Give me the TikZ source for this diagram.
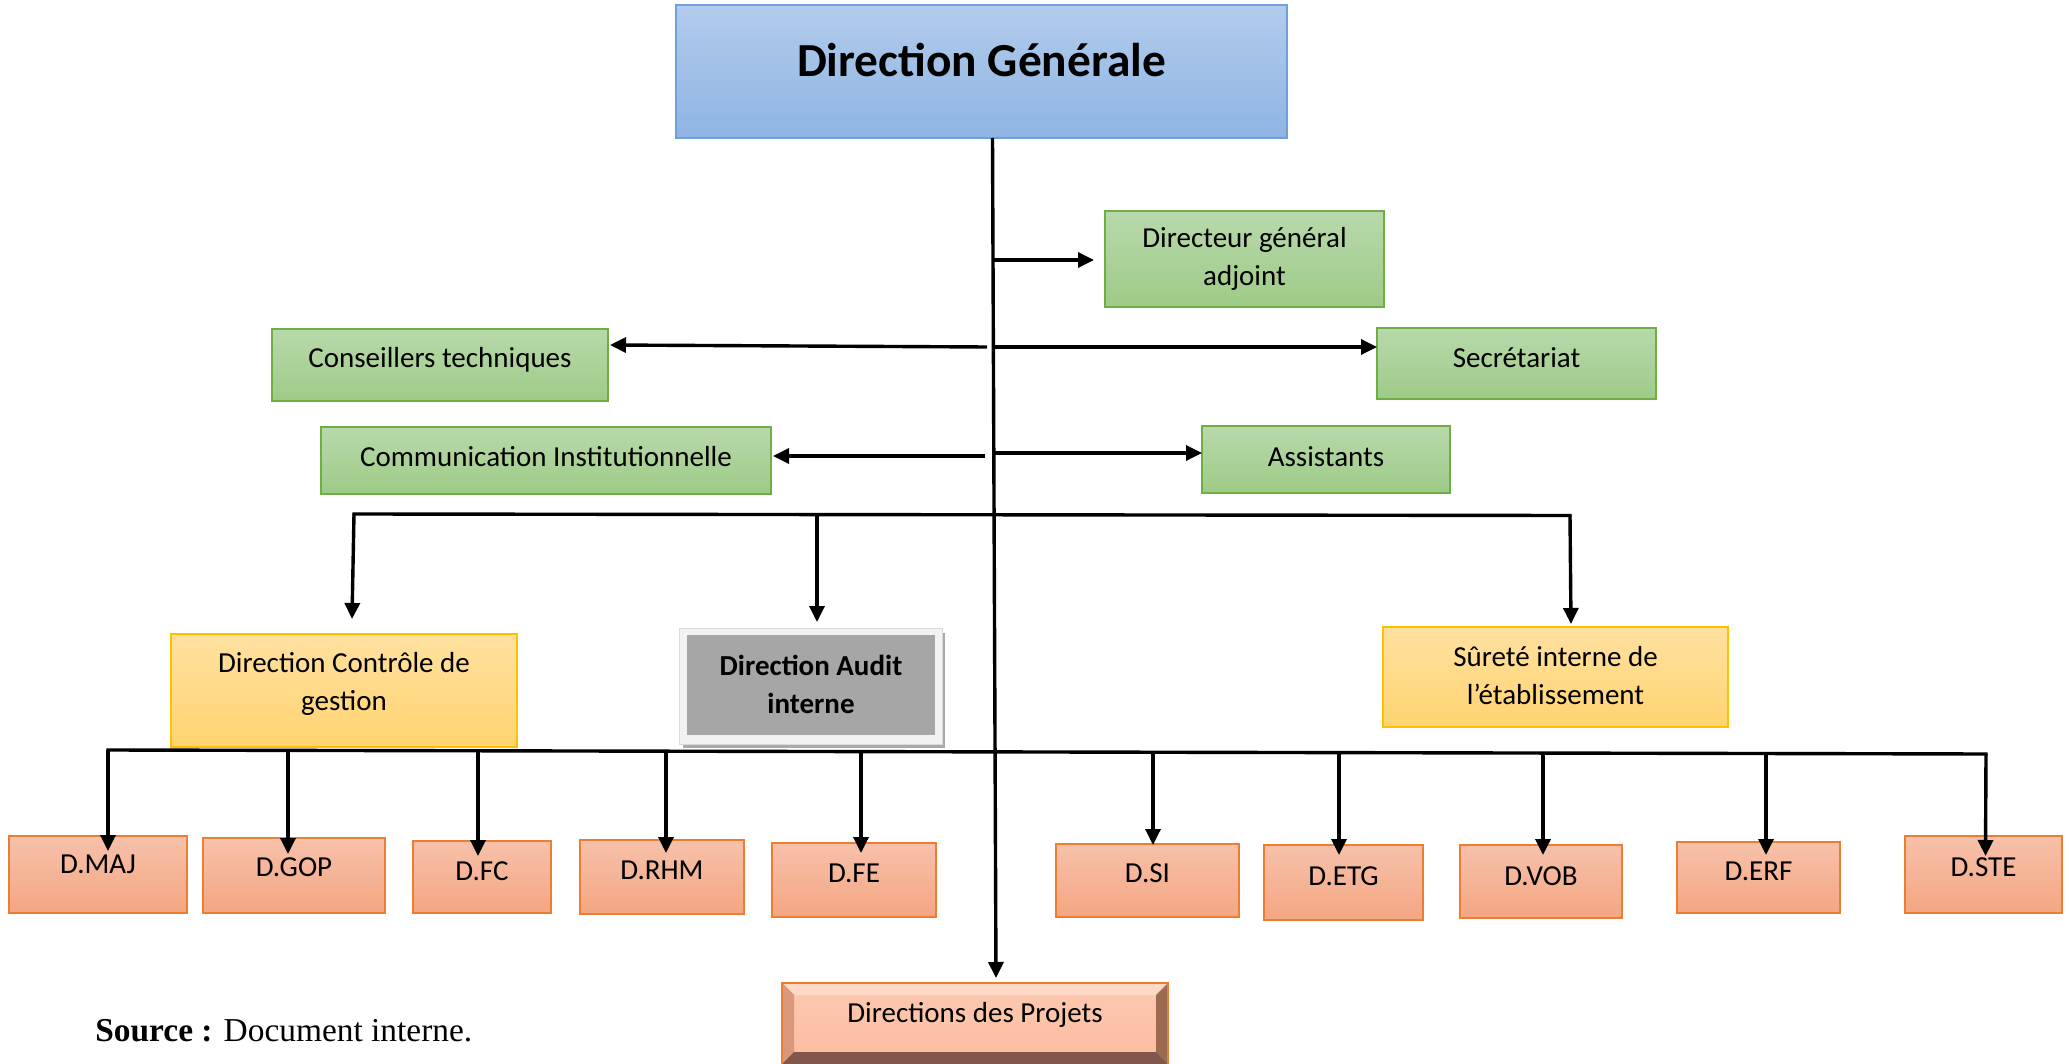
\documentclass[tikz,border=0pt]{standalone}
\usepackage{fontspec}
\setmainfont{Carlito}
\newfontfamily\timesf{Liberation Serif}
\usetikzlibrary{arrows.meta,calc}

\definecolor{dgTop}{RGB}{178,204,236}
\definecolor{dgBot}{RGB}{142,180,227}
\definecolor{dgBd}{RGB}{110,160,220}
\definecolor{grTop}{RGB}{184,217,171}
\definecolor{grBot}{RGB}{158,203,135}
\definecolor{grBd}{RGB}{112,173,71}
\definecolor{yeTop}{RGB}{255,224,160}
\definecolor{yeBot}{RGB}{255,212,112}
\definecolor{yeBd}{RGB}{255,192,0}
\definecolor{orTop}{RGB}{247,193,170}
\definecolor{orBot}{RGB}{244,166,130}
\definecolor{orBd}{RGB}{237,125,49}
\definecolor{auOut}{RGB}{242,242,242}
\definecolor{auIn}{RGB}{166,166,166}
\definecolor{auSh}{RGB}{170,170,170}
\definecolor{prFace}{RGB}{252,188,158}
\definecolor{prTopB}{RGB}{253,216,196}
\definecolor{prLeftB}{RGB}{217,152,124}
\definecolor{prRightB}{RGB}{156,106,82}
\definecolor{prBotB}{RGB}{128,87,74}

% name, box style, x1, y1, x2, y2, text y, text style, text
\newcommand\orgbox[9]{%
  \node[#2, minimum width={(#5-#3)*0.5pt}, minimum height={(#6-#4)*0.5pt}] (#1) at ({(#3+#5)/2},{(#4+#6)/2}) {};
  \node[txt,#8] (#1-t) at ({(#3+#5)/2},#7) {#9};}

\begin{document}
\begin{tikzpicture}[x=0.5pt,y=-0.5pt,
  box/.style={draw, line width=0.7pt, inner sep=0pt, outer sep=0pt, rectangle},
  dgbox/.style={box, draw=dgBd, top color=dgTop, bottom color=dgBot},
  grbox/.style={box, draw=grBd, top color=grTop, bottom color=grBot},
  yebox/.style={box, draw=yeBd, top color=yeTop, bottom color=yeBot},
  orbox/.style={box, draw=orBd, top color=orTop, bottom color=orBot},
  plain/.style={box, draw=none},
  txt/.style={inner sep=0pt, align=center, font=\fontsize{14.5}{19}\selectfont},
  bigtxt/.style={font=\bfseries\fontsize{23.7}{28}\selectfont},
  boldtxt/.style={font=\bfseries\fontsize{14.5}{19}\selectfont},
  ln/.style={line width=1.7pt},
  arr/.style={line width=1.7pt, -{Triangle[length=8pt,width=7.5pt]}}]

\useasboundingbox (0,0) rectangle (2069,1064);

% ---------- boxes ----------
\orgbox{dg}{dgbox}{676}{5}{1287}{138}{60}{bigtxt}{Direction Générale}
\orgbox{dga}{grbox}{1105}{211}{1384}{307}{259}{}{Directeur général\\adjoint}
\orgbox{cons}{grbox}{272}{329}{608}{401}{360}{}{Conseillers techniques}
\orgbox{sec}{grbox}{1377}{328}{1656}{399}{358}{}{Secrétariat}
\orgbox{comm}{grbox}{321}{427}{771}{494}{457}{}{Communication Institutionnelle}
\orgbox{asst}{grbox}{1202}{426}{1450}{493}{457}{}{Assistants}
\orgbox{cdg}{yebox}{171}{634}{517}{747}{684}{}{Direction Contrôle de\\gestion}
\orgbox{sur}{yebox}{1383}{627}{1728}{727}{676}{}{Sûreté interne de\\l’établissement}

% audit box with shadow
\node[plain, fill=auSh, minimum width={262*0.5pt}, minimum height={115*0.5pt}] (audsh) at (814,690.5) {};
\orgbox{audo}{plain, fill=auOut, draw=auOut!90!black, line width=0.3pt}{679}{628}{942}{744}{686}{}{}
\orgbox{audit}{plain, fill=auIn}{687}{635}{935}{735}{684}{boldtxt}{Direction Audit\\interne}

\orgbox{maj}{orbox}{9}{836}{187}{913}{864}{}{D.MAJ}
\orgbox{gop}{orbox}{203}{838}{385}{913}{867}{}{D.GOP}
\orgbox{fc}{orbox}{413}{841}{551}{913}{871}{}{D.FC}
\orgbox{rhm}{orbox}{580}{840}{744}{914}{870}{}{D.RHM}
\orgbox{fe}{orbox}{772}{843}{936}{917}{873}{}{D.FE}
\orgbox{si}{orbox}{1056}{844}{1239}{917}{873}{}{D.SI}
\orgbox{etg}{orbox}{1264}{845}{1423}{920}{876}{}{D.ETG}
\orgbox{vob}{orbox}{1460}{845}{1622}{918}{876}{}{D.VOB}
\orgbox{erf}{orbox}{1677}{842}{1840}{913}{871}{}{D.ERF}
\orgbox{ste}{orbox}{1905}{836}{2062}{913}{867}{}{D.STE}

% Directions des Projets (bevelled)
\node[plain, top color=prFace!80!white, bottom color=prFace, minimum width={386*0.5pt}, minimum height={81*0.5pt}] (proj) at (975,1023.5) {};
\fill[prTopB] (782,983) -- (1168,983) -- (1156,995) -- (794,995) -- cycle;
\fill[prLeftB] (782,983) -- (794,995) -- (794,1052) -- (782,1064) -- cycle;
\fill[prRightB] (1168,983) -- (1156,995) -- (1156,1052) -- (1168,1064) -- cycle;
\fill[prBotB] (782,1064) -- (794,1052) -- (1156,1052) -- (1168,1064) -- cycle;
\draw[orBd, line width=0.7pt] (782,1064) -- (782,983) -- (1168,983) -- (1168,1064);
\node[txt] (proj-t) at (975,1015) {Directions des Projets};

% ---------- connectors ----------
\coordinate (trTop) at ($(dg.south)+(11,0)$);
\coordinate (trEnd) at ($(proj.north)+(21,-5)$);
\draw[arr] (trTop) -- (trEnd);

\draw[arr] (993,260) -- ($(dga.west)+(-11,1)$);
\draw[arr] (987,347) -- ($(cons.east)+(2,-20)$);
\draw[arr] (994,347) -- ($(sec.west)+(0,-16.5)$);
\draw[arr] (985,456) -- ($(comm.east)+(2,-4.5)$);
\draw[arr] (994,453) -- ($(asst.west)+(0,-6.5)$);

% first horizontal bar
\coordinate (b1L) at (354,514);
\coordinate (b1M) at (817,514.5);
\coordinate (b1R) at (1570,515.5);
\draw[ln] ([xshift=-0.85pt]b1L) -- ([xshift=0.85pt]b1R);
\draw[arr] (b1L) -- ($(cdg.north)+(8,-15)$);
\draw[arr] (b1M) -- ($(audo.north)+(6.5,-6)$);
\draw[arr] (b1R) -- ($(sur.north)+(15.5,-3)$);

% second horizontal bar
\coordinate (b2L) at (108,750);
\coordinate (b2R) at (1986,754);
\draw[ln] ([xshift=-0.85pt]b2L) -- ([xshift=0.85pt]b2R);
\draw[arr] (b2L) -- ($(maj.north)+(10,15)$);
\draw[arr] (288,750.4) -- ($(gop.north)+(-6,16)$);
\draw[arr] (478,750.8) -- ($(fc.north)+(-4,15)$);
\draw[arr] (666,751.2) -- ($(rhm.north)+(4,13)$);
\draw[arr] (861,751.6) -- ($(fe.north)+(7,10)$);
\draw[arr] (1153,752.2) -- ($(si.north)+(5.5,1)$);
\draw[arr] (1339,752.6) -- ($(etg.north)+(-4.5,10)$);
\draw[arr] (1543,753) -- ($(vob.north)+(2,10)$);
\draw[arr] (1766,753.5) -- ($(erf.north)+(7.5,13)$);
\draw[arr] (b2R) -- ($(ste.north)+(2,20)$);

% source
\node[anchor=base west, inner sep=0pt, font=\timesf\fontsize{16.7}{20}\selectfont] (src) at (95,1041) {\textbf{Source :} Document interne.};
\end{tikzpicture}
\end{document}
